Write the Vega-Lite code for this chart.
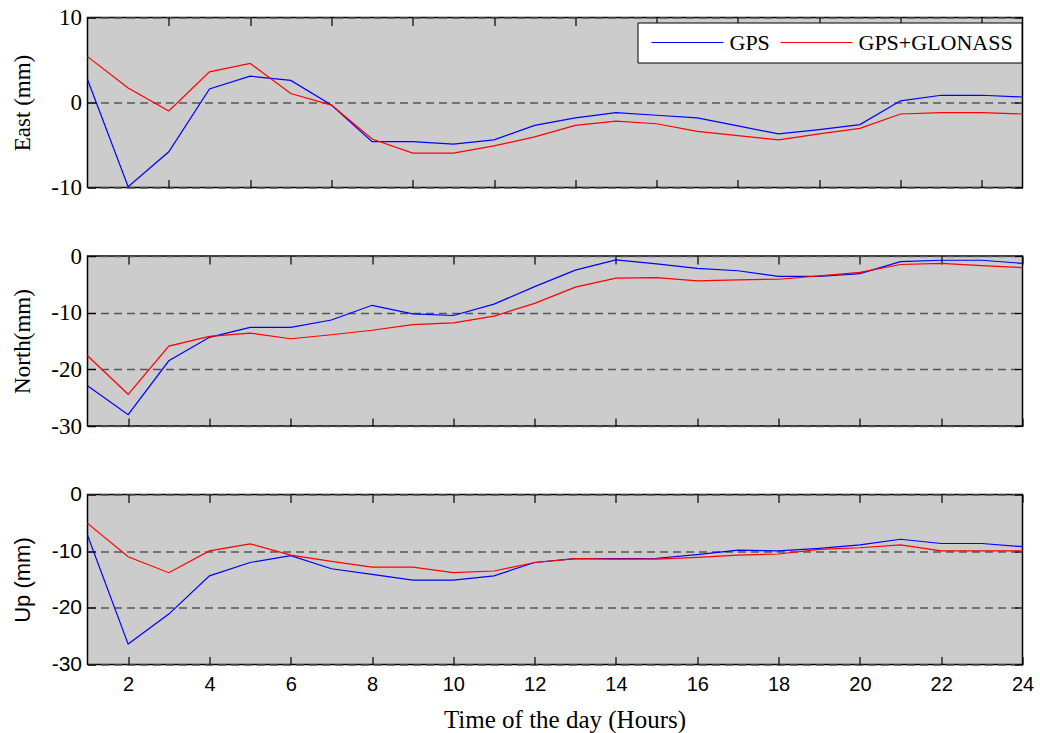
{
  "$schema": "https://vega.github.io/schema/vega-lite/v6.json",
  "padding": {"left": 10.5, "top": 5.5, "right": 5, "bottom": 5},
  "background": "white",
  "config": {
    "view": {"fill": "#cccccc", "stroke": "#000000", "strokeWidth": 1.5},
    "axis": {"domain": false, "grid": false, "tickColor": "#000000", "tickSize": -8, "tickWidth": 1.2, "labelColor": "#000000", "titleColor": "#000000", "titleFontWeight": "normal", "labelFlush": false, "labelOverlap": false, "labelExpr": "'' + datum.value"}
  },
  "datasets": {
    "E": [
      {"h":1,"s":"GPS","v":2.7},{"h":2,"s":"GPS","v":-9.9},{"h":3,"s":"GPS","v":-5.8},{"h":4,"s":"GPS","v":1.6},{"h":5,"s":"GPS","v":3.1},{"h":6,"s":"GPS","v":2.6},{"h":7,"s":"GPS","v":-0.3},{"h":8,"s":"GPS","v":-4.6},{"h":9,"s":"GPS","v":-4.6},{"h":10,"s":"GPS","v":-4.9},{"h":11,"s":"GPS","v":-4.4},{"h":12,"s":"GPS","v":-2.7},{"h":13,"s":"GPS","v":-1.8},{"h":14,"s":"GPS","v":-1.2},{"h":15,"s":"GPS","v":-1.5},{"h":16,"s":"GPS","v":-1.8},{"h":17,"s":"GPS","v":-2.75},{"h":18,"s":"GPS","v":-3.7},{"h":19,"s":"GPS","v":-3.2},{"h":20,"s":"GPS","v":-2.6},{"h":21,"s":"GPS","v":0.2},{"h":22,"s":"GPS","v":0.85},{"h":23,"s":"GPS","v":0.85},{"h":24,"s":"GPS","v":0.65},
      {"h":1,"s":"GPS+GLONASS","v":5.4},{"h":2,"s":"GPS+GLONASS","v":1.7},{"h":3,"s":"GPS+GLONASS","v":-1.0},{"h":4,"s":"GPS+GLONASS","v":3.6},{"h":5,"s":"GPS+GLONASS","v":4.6},{"h":6,"s":"GPS+GLONASS","v":1.05},{"h":7,"s":"GPS+GLONASS","v":-0.3},{"h":8,"s":"GPS+GLONASS","v":-4.3},{"h":9,"s":"GPS+GLONASS","v":-5.95},{"h":10,"s":"GPS+GLONASS","v":-5.95},{"h":11,"s":"GPS+GLONASS","v":-5.1},{"h":12,"s":"GPS+GLONASS","v":-4.05},{"h":13,"s":"GPS+GLONASS","v":-2.7},{"h":14,"s":"GPS+GLONASS","v":-2.2},{"h":15,"s":"GPS+GLONASS","v":-2.5},{"h":16,"s":"GPS+GLONASS","v":-3.4},{"h":17,"s":"GPS+GLONASS","v":-3.9},{"h":18,"s":"GPS+GLONASS","v":-4.4},{"h":19,"s":"GPS+GLONASS","v":-3.7},{"h":20,"s":"GPS+GLONASS","v":-3.05},{"h":21,"s":"GPS+GLONASS","v":-1.35},{"h":22,"s":"GPS+GLONASS","v":-1.2},{"h":23,"s":"GPS+GLONASS","v":-1.2},{"h":24,"s":"GPS+GLONASS","v":-1.35}
    ],
    "N": [
      {"h":1,"s":"GPS","v":-22.9},{"h":2,"s":"GPS","v":-28.0},{"h":3,"s":"GPS","v":-18.5},{"h":4,"s":"GPS","v":-14.35},{"h":5,"s":"GPS","v":-12.6},{"h":6,"s":"GPS","v":-12.6},{"h":7,"s":"GPS","v":-11.3},{"h":8,"s":"GPS","v":-8.7},{"h":9,"s":"GPS","v":-10.2},{"h":10,"s":"GPS","v":-10.5},{"h":11,"s":"GPS","v":-8.5},{"h":12,"s":"GPS","v":-5.4},{"h":13,"s":"GPS","v":-2.5},{"h":14,"s":"GPS","v":-0.7},{"h":15,"s":"GPS","v":-1.4},{"h":16,"s":"GPS","v":-2.2},{"h":17,"s":"GPS","v":-2.6},{"h":18,"s":"GPS","v":-3.6},{"h":19,"s":"GPS","v":-3.6},{"h":20,"s":"GPS","v":-3.1},{"h":21,"s":"GPS","v":-1.0},{"h":22,"s":"GPS","v":-0.75},{"h":23,"s":"GPS","v":-0.75},{"h":24,"s":"GPS","v":-1.3},
      {"h":1,"s":"GPS+GLONASS","v":-17.6},{"h":2,"s":"GPS+GLONASS","v":-24.4},{"h":3,"s":"GPS+GLONASS","v":-15.9},{"h":4,"s":"GPS+GLONASS","v":-14.2},{"h":5,"s":"GPS+GLONASS","v":-13.6},{"h":6,"s":"GPS+GLONASS","v":-14.6},{"h":7,"s":"GPS+GLONASS","v":-13.9},{"h":8,"s":"GPS+GLONASS","v":-13.1},{"h":9,"s":"GPS+GLONASS","v":-12.1},{"h":10,"s":"GPS+GLONASS","v":-11.8},{"h":11,"s":"GPS+GLONASS","v":-10.6},{"h":12,"s":"GPS+GLONASS","v":-8.35},{"h":13,"s":"GPS+GLONASS","v":-5.5},{"h":14,"s":"GPS+GLONASS","v":-3.9},{"h":15,"s":"GPS+GLONASS","v":-3.8},{"h":16,"s":"GPS+GLONASS","v":-4.4},{"h":17,"s":"GPS+GLONASS","v":-4.2},{"h":18,"s":"GPS+GLONASS","v":-4.1},{"h":19,"s":"GPS+GLONASS","v":-3.5},{"h":20,"s":"GPS+GLONASS","v":-2.9},{"h":21,"s":"GPS+GLONASS","v":-1.5},{"h":22,"s":"GPS+GLONASS","v":-1.3},{"h":23,"s":"GPS+GLONASS","v":-1.7},{"h":24,"s":"GPS+GLONASS","v":-2.05}
    ],
    "U": [
      {"h":1,"s":"GPS","v":-7.2},{"h":2,"s":"GPS","v":-26.4},{"h":3,"s":"GPS","v":-21.1},{"h":4,"s":"GPS","v":-14.35},{"h":5,"s":"GPS","v":-12.0},{"h":6,"s":"GPS","v":-10.8},{"h":7,"s":"GPS","v":-13.1},{"h":8,"s":"GPS","v":-14.1},{"h":9,"s":"GPS","v":-15.1},{"h":10,"s":"GPS","v":-15.1},{"h":11,"s":"GPS","v":-14.35},{"h":12,"s":"GPS","v":-12.0},{"h":13,"s":"GPS","v":-11.3},{"h":14,"s":"GPS","v":-11.3},{"h":15,"s":"GPS","v":-11.25},{"h":16,"s":"GPS","v":-10.6},{"h":17,"s":"GPS","v":-9.8},{"h":18,"s":"GPS","v":-9.95},{"h":19,"s":"GPS","v":-9.5},{"h":20,"s":"GPS","v":-8.9},{"h":21,"s":"GPS","v":-7.9},{"h":22,"s":"GPS","v":-8.65},{"h":23,"s":"GPS","v":-8.65},{"h":24,"s":"GPS","v":-9.2},
      {"h":1,"s":"GPS+GLONASS","v":-5.1},{"h":2,"s":"GPS+GLONASS","v":-11.0},{"h":3,"s":"GPS+GLONASS","v":-13.8},{"h":4,"s":"GPS+GLONASS","v":-9.95},{"h":5,"s":"GPS+GLONASS","v":-8.7},{"h":6,"s":"GPS+GLONASS","v":-10.7},{"h":7,"s":"GPS+GLONASS","v":-11.8},{"h":8,"s":"GPS+GLONASS","v":-12.8},{"h":9,"s":"GPS+GLONASS","v":-12.8},{"h":10,"s":"GPS+GLONASS","v":-13.8},{"h":11,"s":"GPS+GLONASS","v":-13.5},{"h":12,"s":"GPS+GLONASS","v":-12.0},{"h":13,"s":"GPS+GLONASS","v":-11.3},{"h":14,"s":"GPS+GLONASS","v":-11.4},{"h":15,"s":"GPS+GLONASS","v":-11.4},{"h":16,"s":"GPS+GLONASS","v":-11.1},{"h":17,"s":"GPS+GLONASS","v":-10.7},{"h":18,"s":"GPS+GLONASS","v":-10.5},{"h":19,"s":"GPS+GLONASS","v":-9.7},{"h":20,"s":"GPS+GLONASS","v":-9.4},{"h":21,"s":"GPS+GLONASS","v":-8.9},{"h":22,"s":"GPS+GLONASS","v":-9.95},{"h":23,"s":"GPS+GLONASS","v":-9.95},{"h":24,"s":"GPS+GLONASS","v":-9.95}
    ]
  },
  "spacing": 68.5,
  "bounds": "flush",
  "resolve": {"scale": {"color": "independent"}, "legend": {"color": "independent"}},
  "vconcat": [
    {
      "width": 935, "height": 170,
      "data": {"name": "E"},
      "layer": [
        {
          "mark": {"type": "line", "strokeWidth": 1.2},
          "encoding": {
            "x": {"field": "h", "type": "quantitative", "scale": {"domain": [1, 24], "nice": false, "zero": false},
                  "axis": {"orient": "bottom", "values": [3,5,7,9,11,13,15,17,19,21,23], "labels": false, "title": null}},
            "y": {"field": "v", "type": "quantitative", "scale": {"domain": [-10, 10], "nice": false, "zero": false},
                  "axis": {"orient": "left", "values": [-10, 0, 10], "grid": true, "gridDash": [8, 5], "gridColor": "#555555", "gridWidth": 1.3,
                           "labelFont": "Liberation Serif", "labelFontSize": 23, "labelPadding": 14,
                           "title": "East (mm)", "titleFont": "Liberation Serif", "titleFontSize": 23, "titleX": -65, "titleAngle": 270, "titleBaseline": "middle", "titleAlign": "center"}},
            "color": {"field": "s", "type": "nominal", "scale": {"domain": ["GPS", "GPS+GLONASS"], "range": ["#0000ff", "#ff0000"]},
                      "legend": {"title": null, "orient": "none", "legendX": 550, "legendY": 5, "direction": "horizontal", "fillColor": "#ffffff", "strokeColor": "#000000", "cornerRadius": 0, "padding": 8,
                                 "symbolType": "stroke", "symbolSize": 5184, "clipHeight": 24, "symbolStrokeWidth": 1.2, "symbolOffset": 5, "labelOffset": 5, "columnPadding": 4,
                                 "labelFont": "Liberation Serif", "labelFontSize": 22, "labelColor": "#000000", "labelLimit": 400}}
          }
        },
        {
          "mark": {"type": "point", "opacity": 0},
          "encoding": {
            "x": {"field": "h", "type": "quantitative", "axis": {"orient": "top", "values": [3,5,7,9,11,13,15,17,19,21,23], "labels": false, "title": null}},
            "y": {"field": "v", "type": "quantitative", "axis": {"orient": "right", "values": [-10, 0, 10], "labels": false, "title": null}}
          }
        }
      ],
      "resolve": {"axis": {"x": "independent", "y": "independent"}}
    },
    {
      "width": 935, "height": 170,
      "data": {"name": "N"},
      "layer": [
        {
          "mark": {"type": "line", "strokeWidth": 1.2},
          "encoding": {
            "x": {"field": "h", "type": "quantitative", "scale": {"domain": [1, 24], "nice": false, "zero": false},
                  "axis": {"orient": "bottom", "values": [2,4,6,8,10,12,14,16,18,20,22,24], "labels": false, "title": null}},
            "y": {"field": "v", "type": "quantitative", "scale": {"domain": [-30, 0], "nice": false, "zero": false},
                  "axis": {"orient": "left", "values": [-30, -20, -10, 0], "grid": true, "gridDash": [8, 5], "gridColor": "#555555", "gridWidth": 1.3,
                           "labelFont": "Liberation Serif", "labelFontSize": 23, "labelPadding": 14,
                           "title": "North(mm)", "titleFont": "Liberation Serif", "titleFontSize": 23, "titleX": -65, "titleAngle": 270, "titleBaseline": "middle", "titleAlign": "center"}},
            "color": {"field": "s", "type": "nominal", "scale": {"domain": ["GPS", "GPS+GLONASS"], "range": ["#0000ff", "#ff0000"]}, "legend": null}
          }
        },
        {
          "mark": {"type": "point", "opacity": 0},
          "encoding": {
            "x": {"field": "h", "type": "quantitative", "axis": {"orient": "top", "values": [2,4,6,8,10,12,14,16,18,20,22,24], "labels": false, "title": null}},
            "y": {"field": "v", "type": "quantitative", "axis": {"orient": "right", "values": [-30, -20, -10, 0], "labels": false, "title": null}}
          }
        }
      ],
      "resolve": {"axis": {"x": "independent", "y": "independent"}}
    },
    {
      "width": 935, "height": 170,
      "data": {"name": "U"},
      "layer": [
        {
          "mark": {"type": "line", "strokeWidth": 1.2},
          "encoding": {
            "x": {"field": "h", "type": "quantitative", "scale": {"domain": [1, 24], "nice": false, "zero": false},
                  "axis": {"orient": "bottom", "values": [2,4,6,8,10,12,14,16,18,20,22,24], "labelFont": "Liberation Sans", "labelFontSize": 20, "labelPadding": 18,
                           "title": "Time of the day (Hours)", "titleFont": "Liberation Serif", "titleFontSize": 25, "titleX": 477, "titleY": 63, "titleBaseline": "alphabetic", "titleAlign": "center"}},
            "y": {"field": "v", "type": "quantitative", "scale": {"domain": [-30, 0], "nice": false, "zero": false},
                  "axis": {"orient": "left", "values": [-30, -20, -10, 0], "grid": true, "gridDash": [8, 5], "gridColor": "#555555", "gridWidth": 1.3,
                           "labelFont": "Liberation Sans", "labelFontSize": 21, "labelPadding": 14,
                           "title": "Up (mm)", "titleFont": "Liberation Sans", "titleFontSize": 22, "titleX": -65, "titleAngle": 270, "titleBaseline": "middle", "titleAlign": "center"}},
            "color": {"field": "s", "type": "nominal", "scale": {"domain": ["GPS", "GPS+GLONASS"], "range": ["#0000ff", "#ff0000"]}, "legend": null}
          }
        },
        {
          "mark": {"type": "point", "opacity": 0},
          "encoding": {
            "x": {"field": "h", "type": "quantitative", "axis": {"orient": "top", "values": [2,4,6,8,10,12,14,16,18,20,22,24], "labels": false, "title": null}},
            "y": {"field": "v", "type": "quantitative", "axis": {"orient": "right", "values": [-30, -20, -10, 0], "labels": false, "title": null}}
          }
        }
      ],
      "resolve": {"axis": {"x": "independent", "y": "independent"}}
    }
  ]
}
